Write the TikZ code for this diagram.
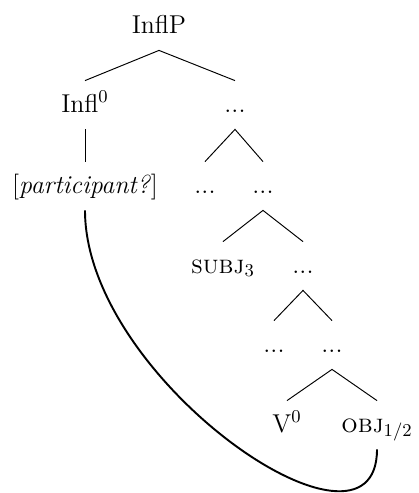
\RequirePackage{fix-cm}
\documentclass[tikz,border=0pt,12pt]{standalone}
\begin{document}
\begin{tikzpicture}[x=0.5pt,y=-0.5pt,
  tn/.style={anchor=base, inner ysep=5.5pt, inner xsep=0pt, text height=10pt, text depth=3pt, font=\fontsize{12.9}{15.5}\selectfont},
  branch/.style={line width=0.48pt},
  link/.style={line width=0.96pt}]
\useasboundingbox (0,0) rectangle (418,493);
\node[tn] (inflp) at (159,33) {InflP};
\node[tn] (infl) at (85,112) {Infl$^0$};
\node[tn] (d1) at (235,112) {...};
\node[tn] (part) at (85,193) {[\textit{participant?}]};
\node[tn] (d2a) at (205,193) {...};
\node[tn] (d2b) at (263,193) {...};
\node[tn] (subj) at (223,273) {\textsc{subj}$_3$};
\node[tn] (d3) at (303,273) {...};
\node[tn] (d4a) at (274,352) {...};
\node[tn] (d4b) at (332,352) {...};
\node[tn] (v) at (287,432) {V$^0$};
\node[tn] (obj) at (377,432) {\textsc{obj}$_{1/2}$};
\draw[branch] (infl.north) -- (inflp.south) -- (d1.north);
\draw[branch] (infl.south) -- (part.north);
\draw[branch] (d2a.north) -- (d1.south) -- (d2b.north);
\draw[branch] (subj.north) -- (d2b.south) -- (d3.north);
\draw[branch] (d4a.north) -- (d3.south) -- (d4b.north);
\draw[branch] (v.north) -- (d4b.south) -- (obj.north);
\draw[link] (part.south) .. controls +(0,170) and +(0,130) .. (obj.south);
\end{tikzpicture}
\end{document}
